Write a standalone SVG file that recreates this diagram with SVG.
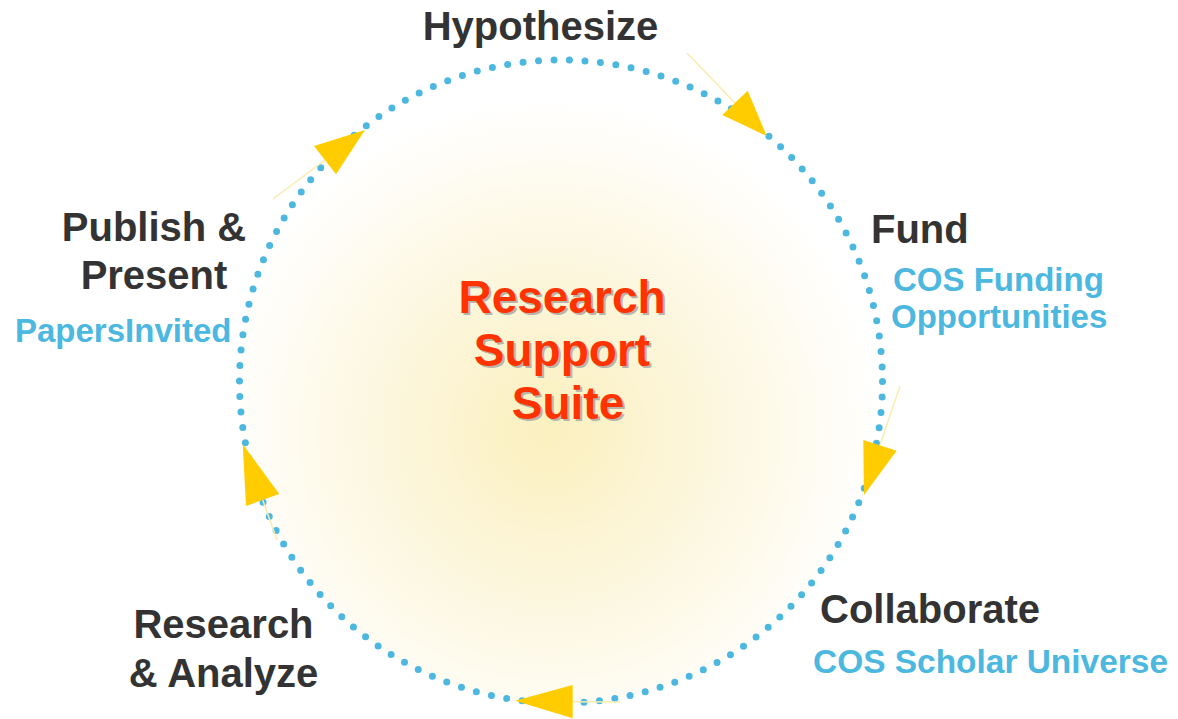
<svg xmlns="http://www.w3.org/2000/svg" width="1178" height="719" viewBox="0 0 1178 719">
  <defs>
    <radialGradient id="glow" cx="548" cy="432" r="335" gradientUnits="userSpaceOnUse">
      <stop offset="0" stop-color="#FBF0BE"/>
      <stop offset="0.4" stop-color="#FCF5D8"/>
      <stop offset="0.75" stop-color="#FEFBEF"/>
      <stop offset="1" stop-color="#FFFFFF"/>
    </radialGradient>
    <style>
      .lbl { font-family: "Liberation Sans", Arial, sans-serif; font-weight: bold; font-size: 40px; fill: #333333; }
      .sub { font-family: "Liberation Sans", Arial, sans-serif; font-weight: bold; font-size: 33px; fill: #4CB8E0; }
      .ctr { font-family: "Liberation Sans", Arial, sans-serif; font-weight: bold; font-size: 46px; fill: #FF3300; text-anchor: middle; }
      .shd { font-family: "Liberation Sans", Arial, sans-serif; font-weight: bold; font-size: 46px; fill: #B8B4A8; text-anchor: middle; }
      .ring { fill: none; stroke: #4CB8E0; stroke-width: 7; stroke-linecap: round; stroke-dasharray: 0 15.54; }
      .tail { stroke: #FBEBB0; stroke-width: 1.5; fill: none; }
      .head { fill: #FFCC00; }
    </style>
  </defs>
  <rect width="1178" height="719" fill="#FFFFFF"/>
  <circle cx="561" cy="381.5" r="321.5" fill="url(#glow)"/>

  <g id="connectors">
    <circle class="ring" cx="561" cy="381.5" r="321.5"/>
    <line class="tail" x1="687" y1="53" x2="735" y2="103"/>
    <polygon class="head" points="766.7,136 747.7,90.7 722.3,115"/>
    <line class="tail" x1="900" y1="386" x2="880" y2="445"/>
    <polygon class="head" points="864,495 863.3,440 896.7,450.7"/>
    <line class="tail" x1="620" y1="702" x2="572.7" y2="701.7"/>
    <polygon class="head" points="515,700.7 572.7,685 572.7,718.3"/>
    <line class="tail" x1="277" y1="540" x2="262.7" y2="500"/>
    <polygon class="head" points="242.7,444 279.3,494 246,506"/>
    <line class="tail" x1="273" y1="199" x2="325" y2="160"/>
    <polygon class="head" points="365,130 314,146 336,174.3"/>
  </g>

  <g id="center">
    <text class="shd" x="564" y="315">Research</text>
    <text class="shd" x="564" y="368">Support</text>
    <text class="shd" x="570" y="421">Suite</text>
    <text class="ctr" x="562" y="313">Research</text>
    <text class="ctr" x="562" y="366">Support</text>
    <text class="ctr" x="568" y="419">Suite</text>
  </g>

  <g id="hypothesize">
    <text class="lbl" x="540.5" y="40" text-anchor="middle">Hypothesize</text>
  </g>

  <g id="fund">
    <text class="lbl" x="871" y="243">Fund</text>
    <text class="sub" x="893" y="291">COS Funding</text>
    <text class="sub" x="891" y="328">Opportunities</text>
  </g>

  <g id="collaborate">
    <text class="lbl" x="820" y="623">Collaborate</text>
    <text class="sub" x="813" y="673" textLength="355" lengthAdjust="spacingAndGlyphs">COS Scholar Universe</text>
  </g>

  <g id="research-analyze">
    <text class="lbl" x="223.5" y="638" text-anchor="middle">Research</text>
    <text class="lbl" x="223.5" y="687" text-anchor="middle">&amp; Analyze</text>
  </g>

  <g id="publish-present">
    <text class="lbl" x="154" y="241" text-anchor="middle">Publish &amp;</text>
    <text class="lbl" x="154" y="289" text-anchor="middle">Present</text>
    <text class="sub" x="15" y="342">PapersInvited</text>
  </g>
</svg>
